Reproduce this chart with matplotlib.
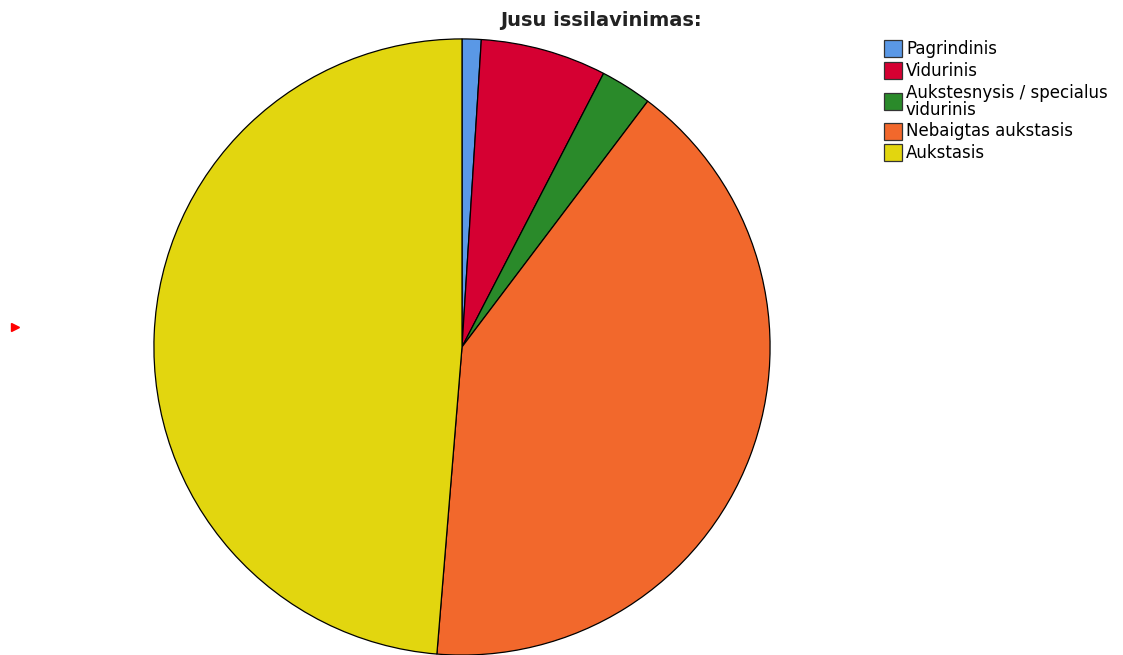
import matplotlib
matplotlib.use("Agg")
import matplotlib.pyplot as plt
from matplotlib.patches import Rectangle

categories = ["Pagrindinis", "Vidurinis", "Aukstesnysis / specialus\nvidurinis",
              "Nebaigtas aukstasis", "Aukstasis"]
shares = [1.0, 6.6, 2.7, 41.0, 48.7]
colors = ["#5A98E6", "#D50032", "#2A8A2A", "#F2682C", "#E2D60F"]
title = "Jusu issilavinimas:"

W, H = 1123, 655
fig = plt.figure(figsize=(W / 100, H / 100), dpi=100)

# Pie axes placed in pixel units: centre (462, 347), radius 309
cx, cy, r = 462, 347, 309
ax = fig.add_axes([(cx - r) / W, (H - cy - r) / H, 2 * r / W, 2 * r / H])
ax.pie(shares, colors=colors, startangle=90, counterclock=False,
       wedgeprops=dict(edgecolor="black", linewidth=0.9), radius=1.0)
ax.set_xlim(-1.003, 1.003)
ax.set_ylim(-1.003, 1.003)
ax.set_aspect("equal")
ax.axis("off")

fig.text(601 / W, 1 - 21 / H, title, ha="center", va="center",
         fontsize=14, fontweight="bold", color="#222222")

# Legend drawn as boxes and labels
row_y = [48, 70, 101, 131, 152]
for label, col, y in zip(categories, colors, row_y):
    fig.patches.append(Rectangle((884 / W, 1 - (y + 8.5) / H), 18 / W, 17 / H,
                                 transform=fig.transFigure, facecolor=col,
                                 edgecolor="#333333", linewidth=0.9))
    fig.text(906 / W, 1 - (y + 0.5) / H, label, ha="left", va="center",
             fontsize=12, linespacing=0.95, color="black")

# Small red pointer on the left edge
fig.lines.append(plt.Line2D([15 / W], [1 - 327 / H], transform=fig.transFigure,
                            marker=">", markersize=6, color="red", linestyle="none"))

fig.savefig("out.png", dpi=100, facecolor="white")
